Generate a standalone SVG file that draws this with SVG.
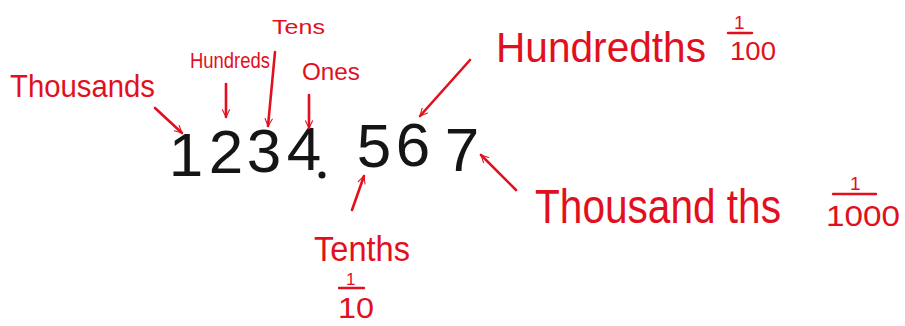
<svg xmlns="http://www.w3.org/2000/svg" width="905" height="326" viewBox="0 0 905 326">
<style>
.r{fill:#e2101e;font-family:"Liberation Sans",Arial,sans-serif}
.k{fill:#151515;font-family:"Liberation Sans",Arial,sans-serif;font-size:62px;text-anchor:middle}
.c{stroke:#e2101e;stroke-width:2.6;fill:none;stroke-linecap:round}
.fl{stroke:#e2101e;stroke-width:2.4;stroke-linecap:round}
</style>
<defs>
<marker id="ah" viewBox="0 0 20 20" refX="18" refY="10" markerWidth="9" markerHeight="9" markerUnits="userSpaceOnUse" orient="auto">
<path d="M2,2 L18,10 L2,18" fill="none" stroke="#e2101e" stroke-width="2.4" stroke-linecap="round"/>
</marker>
</defs>
<rect width="905" height="326" fill="#ffffff"/>
<g id="number">
<text class="k" x="186" y="176">1</text>
<text class="k" x="226" y="173">2</text>
<text class="k" x="264" y="172">3</text>
<text class="k" x="304" y="170">4</text>
<circle cx="322" cy="175" r="3.5" fill="#151515"/>
<text class="k" x="374" y="167">5</text>
<text class="k" x="413" y="166">6</text>
<text class="k" x="462" y="171">7</text>
</g>
<g id="thousands"><text class="r" x="10" y="97" font-size="32" textLength="145" lengthAdjust="spacingAndGlyphs">Thousands</text></g>
<g id="hundreds"><text class="r" x="190" y="68" font-size="22" textLength="80" lengthAdjust="spacingAndGlyphs">Hundreds</text></g>
<g id="tens"><text class="r" x="272" y="34" font-size="21" textLength="53" lengthAdjust="spacingAndGlyphs">Tens</text></g>
<g id="ones"><text class="r" x="302" y="80" font-size="24" textLength="58" lengthAdjust="spacingAndGlyphs">Ones</text></g>
<g id="hundredths">
<text class="r" x="496" y="62" font-size="42" textLength="210" lengthAdjust="spacingAndGlyphs">Hundredths</text>
<text class="r" x="734" y="29" font-size="19">1</text>
<line class="fl" x1="728" y1="33" x2="752" y2="33"/>
<text class="r" x="730" y="60" font-size="26" textLength="46" lengthAdjust="spacingAndGlyphs">100</text>
</g>
<g id="thousandths">
<text class="r" x="535" y="223" font-size="48" textLength="246" lengthAdjust="spacingAndGlyphs">Thousand ths</text>
<text class="r" x="850" y="190" font-size="19">1</text>
<line class="fl" x1="833" y1="194" x2="876" y2="194"/>
<text class="r" x="826" y="226" font-size="30" textLength="74" lengthAdjust="spacingAndGlyphs">1000</text>
</g>
<g id="tenths">
<text class="r" x="314" y="261" font-size="35" textLength="96" lengthAdjust="spacingAndGlyphs">Tenths</text>
<text class="r" x="346" y="285" font-size="17">1</text>
<line class="fl" x1="339" y1="288" x2="364" y2="288"/>
<text class="r" x="338" y="318" font-size="29" textLength="36" lengthAdjust="spacingAndGlyphs">10</text>
</g>
<g id="connectors">
<path class="c" d="M155,108 L182,133" marker-end="url(#ah)"/>
<path class="c" d="M226,84 L226,117" marker-end="url(#ah)"/>
<path class="c" d="M275,52 L268,126" marker-end="url(#ah)"/>
<path class="c" d="M309,95 L309,128" marker-end="url(#ah)"/>
<path class="c" d="M470,60 L420,116" marker-end="url(#ah)"/>
<path class="c" d="M516,190 L481,155" marker-end="url(#ah)"/>
<path class="c" d="M352,210 L364,176" marker-end="url(#ah)"/>
</g>
</svg>
